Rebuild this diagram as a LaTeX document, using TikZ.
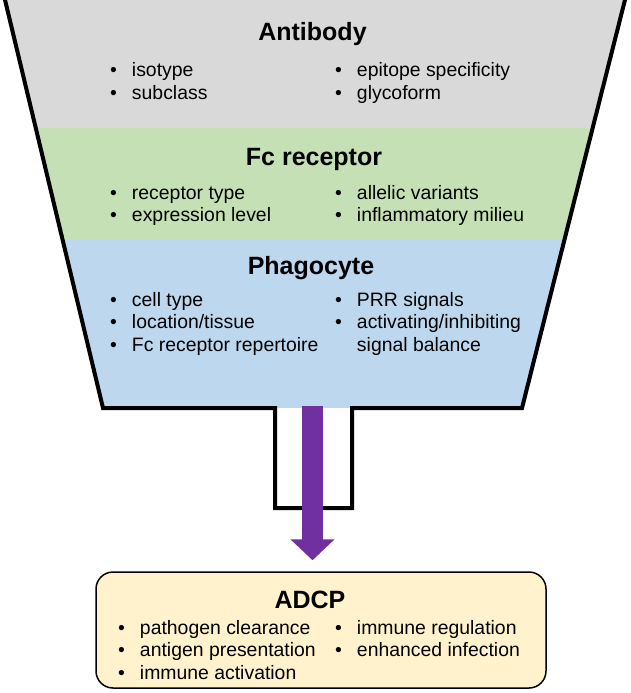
\documentclass[tikz,border=0pt]{standalone}
\usepackage{fontspec}
\setmainfont{Liberation Sans}
\usepackage{tikz}
\usetikzlibrary{arrows.meta}

\definecolor{abgray}{HTML}{D9D9D9}
\definecolor{fcgreen}{HTML}{C5E0B4}
\definecolor{phblue}{HTML}{BDD7EE}
\definecolor{adcpyellow}{HTML}{FFF2CC}
\definecolor{adcppurple}{HTML}{7030A0}

\newcommand{\bulletcol}[1]{\begin{tabular}[t]{@{}l@{\hspace{15pt}}l@{}}#1\end{tabular}}

\begin{document}
\begin{tikzpicture}[x=1pt, y=1pt,
  title/.style={font=\fontsize{25}{30}\selectfont\bfseries, anchor=base, inner sep=0},
  lst/.style={font=\fontsize{19.4}{22.5}\selectfont, anchor=base west, inner sep=0}]
\useasboundingbox (0,0) rectangle (630,-693);

% funnel bands
\begin{scope}
\clip (5,0) -- (103,-408) -- (522,-408) -- (625,0) -- cycle;
\fill[abgray] (0,0) rectangle (630,-128);
\fill[fcgreen] (0,-128) rectangle (630,-240);
\fill[phblue] (0,-240) rectangle (630,-408);
\end{scope}
\draw[line width=4pt] (4.3,3) -- (103,-408) -- (275,-408) -- (275,-508) -- (352,-508)
  -- (352,-408) -- (522,-408) -- (625.7,3);

% antibody
\node[title] (ab) at (312.5,-41) {Antibody};
\node[lst] (abl) at (110,-77) {\bulletcol{\textbullet & isotype\\ \textbullet & subclass}};
\node[lst] (abr) at (335,-77) {\bulletcol{\textbullet & epitope specificity\\ \textbullet & glycoform}};

% Fc receptor
\node[title] (fc) at (314,-165) {Fc receptor};
\node[lst] (fcl) at (110,-199) {\bulletcol{\textbullet & receptor type\\ \textbullet & expression level}};
\node[lst] (fcr) at (335,-199) {\bulletcol{\textbullet & allelic variants\\ \textbullet & inflammatory milieu}};

% phagocyte
\node[title] (ph) at (311,-274) {Phagocyte};
\node[lst] (phl) at (110,-306) {\bulletcol{\textbullet & cell type\\ \textbullet & location/tissue\\ \textbullet & Fc receptor repertoire}};
\node[lst] (phr) at (335,-306) {\bulletcol{\textbullet & PRR signals\\ \textbullet & activating/inhibiting\\ & signal balance}};

% outcome
\node[draw, line width=1.5pt, rounded corners=17pt, fill=adcpyellow,
  minimum width=450pt, minimum height=116pt] (adcp) at (321,-630) {};
\node[title] (adcpt) at (310,-608) {ADCP};
\node[lst] (adcpl) at (118,-634) {\bulletcol{\textbullet & pathogen clearance\\ \textbullet & antigen presentation\\ \textbullet & immune activation}};
\node[lst] (adcpr) at (335,-634) {\bulletcol{\textbullet & immune regulation\\ \textbullet & enhanced infection}};

\coordinate (spout) at (312.5,-406);
\draw[adcppurple, line width=21pt, -{Triangle[width=43pt,length=21pt]}, shorten >=11pt] (spout) -- (spout |- adcp.north);

\end{tikzpicture}
\end{document}
